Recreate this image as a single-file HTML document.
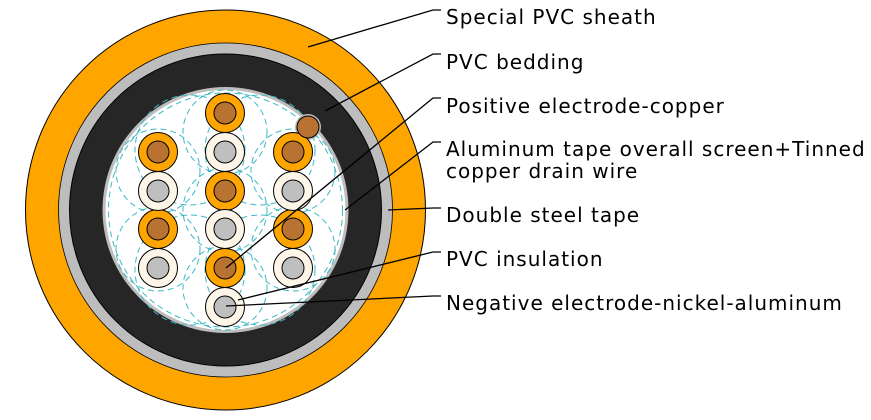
<!DOCTYPE html>
<html><head><meta charset="utf-8"><style>
html,body{margin:0;padding:0;background:#fff;}
svg{display:block;}
text{font-family:"DejaVu Sans","Liberation Sans",sans-serif;font-size:20px;letter-spacing:1px;fill:#000;}
</style></head><body>
<svg width="871" height="420" viewBox="0 0 871 420">
<circle cx="225.5" cy="210" r="200" fill="#FFA500" stroke="#000" stroke-width="1"/>
<circle cx="225.5" cy="210" r="167" fill="#BDBDBD" stroke="#000" stroke-width="0.8"/>
<circle cx="225.5" cy="210" r="156" fill="#262626" stroke="#000" stroke-width="1"/>
<circle cx="225.5" cy="210" r="123" fill="#BDBDBD"/>
<circle cx="225.5" cy="210" r="120" fill="#fff"/>
<circle cx="308" cy="127" r="13" fill="#BDBDBD"/>
<g fill="none" stroke="#3BB8C4" stroke-width="1" stroke-dasharray="6,4">
<circle cx="225.5" cy="210" r="117"/>
<circle cx="158" cy="171" r="42"/><circle cx="158" cy="249" r="42"/>
<circle cx="293" cy="171" r="42"/><circle cx="293" cy="249" r="42"/>
<circle cx="225" cy="132" r="42"/><circle cx="225" cy="210" r="42"/><circle cx="225" cy="288" r="42"/>
<circle cx="190" cy="150" r="55"/><circle cx="260" cy="150" r="55"/>
<circle cx="190" cy="270" r="55"/><circle cx="260" cy="270" r="55"/>
</g>
<g stroke="#000" stroke-width="1">
<g fill="#FFA500">
<circle cx="225" cy="113" r="19.5"/><circle cx="225" cy="191" r="19.5"/><circle cx="225" cy="268" r="19.5"/>
<circle cx="158" cy="152" r="19.5"/><circle cx="158" cy="229" r="19.5"/>
<circle cx="293" cy="152" r="19.5"/><circle cx="293" cy="229" r="19.5"/>
</g>
<g fill="#FDF6E8">
<circle cx="225" cy="152" r="19.5"/><circle cx="225" cy="229" r="19.5"/><circle cx="225" cy="307" r="19.5"/>
<circle cx="158" cy="191" r="19.5"/><circle cx="158" cy="268" r="19.5"/>
<circle cx="293" cy="191" r="19.5"/><circle cx="293" cy="268" r="19.5"/>
</g>
<g fill="#B87333">
<circle cx="225" cy="113" r="11"/><circle cx="225" cy="191" r="11"/><circle cx="225" cy="268" r="11"/>
<circle cx="158" cy="152" r="11"/><circle cx="158" cy="229" r="11"/>
<circle cx="293" cy="152" r="11"/><circle cx="293" cy="229" r="11"/>
<circle cx="308" cy="127" r="11"/>
</g>
<g fill="#BFBFBF">
<circle cx="225" cy="152" r="11"/><circle cx="225" cy="229" r="11"/><circle cx="225" cy="307" r="11"/>
<circle cx="158" cy="191" r="11"/><circle cx="158" cy="268" r="11"/>
<circle cx="293" cy="191" r="11"/><circle cx="293" cy="268" r="11"/>
</g>
</g>
<g stroke="#000" stroke-width="1.3" fill="none">
<polyline points="441,10 433,10 308,47"/>
<polyline points="441,54 433,54 325,111"/>
<polyline points="441,98 433,98 226,268"/>
<polyline points="441,142 433,142 345,210"/>
<polyline points="441,208 433,208 388,210"/>
<polyline points="441,252 433,252 238,300"/>
<polyline points="441,296 433,296 226,306"/>
</g>
<text x="446" y="24">Special PVC sheath</text>
<text x="446" y="69">PVC bedding</text>
<text x="446" y="113">Positive electrode-copper</text>
<text x="446" y="156">Aluminum tape overall screen+Tinned</text>
<text x="446" y="178">copper drain wire</text>
<text x="446" y="222">Double steel tape</text>
<text x="446" y="266">PVC insulation</text>
<text x="446" y="310">Negative electrode-nickel-aluminum</text>
</svg>
</body></html>
